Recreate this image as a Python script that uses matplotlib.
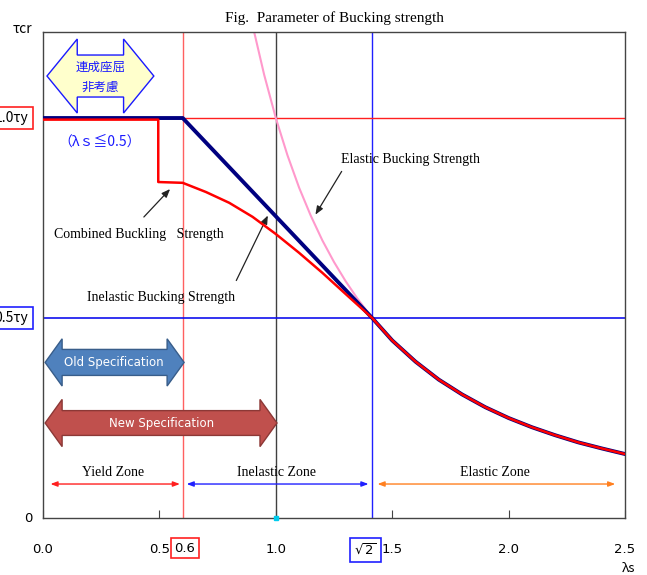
import matplotlib
matplotlib.use('Agg')
import matplotlib.pyplot as plt
from matplotlib.patches import Polygon

plt.rcParams['font.family'] = ['DejaVu Sans', 'Noto Sans CJK JP']

# elastic buckling strength (pink)
lam_el = [0.907, 0.95, 1.0, 1.05, 1.1, 1.15, 1.2, 1.25, 1.3, 1.35, 1.414]
tau_el = [1.215, 1.108, 1.0, 0.907, 0.826, 0.756, 0.694, 0.640, 0.592, 0.549, 0.5]

# inelastic buckling strength (navy)
lam_in = [0.0, 0.6, 1.414, 1.5, 1.6, 1.7, 1.8, 1.9, 2.0, 2.1, 2.2, 2.3, 2.4, 2.5]
tau_in = [1.0, 1.0, 0.5, 0.444, 0.391, 0.346, 0.309, 0.277, 0.25, 0.227, 0.207, 0.189, 0.174, 0.16]

# combined buckling strength (red)
lam_cb = [0.0, 0.495, 0.495, 0.6, 0.7, 0.8, 0.9, 1.0, 1.1, 1.2, 1.3, 1.414,
          1.5, 1.6, 1.7, 1.8, 1.9, 2.0, 2.1, 2.2, 2.3, 2.4, 2.5]
tau_cb = [0.996, 0.996, 0.84, 0.838, 0.815, 0.788, 0.753, 0.71, 0.663, 0.613, 0.56, 0.5,
          0.444, 0.391, 0.346, 0.309, 0.277, 0.25, 0.227, 0.207, 0.189, 0.174, 0.16]

xticks = [0.0, 0.5, 1.0, 1.5, 2.0, 2.5]
xticklabels = ['0.0', '0.5', '1.0', '1.5', '2.0', '2.5']

serif = 'Liberation Serif'
cjk = ['Noto Sans CJK JP', 'DejaVu Sans']

fig = plt.figure(figsize=(6.47, 5.75), dpi=100)
ax = fig.add_axes([0.0665, 0.0991, 0.8995, 0.8452])
ax.set_xlim(0, 2.5)
ax.set_ylim(0, 1.215)

# reference lines
ax.axvline(0.6, color='#ff6060', lw=1, zorder=1)
ax.axvline(1.0, color='#404040', lw=1, zorder=1)
ax.axvline(2 ** 0.5, color='#2020ff', lw=1, zorder=1)
ax.axhline(1.0, color='#ff2020', lw=1, zorder=1)
ax.axhline(0.5, color='#1010ee', lw=1.2, zorder=1)

ax.plot(lam_el, tau_el, color='#ff99cc', lw=1.5, zorder=2)
ax.plot(lam_in, tau_in, color='#000080', lw=2.8, zorder=3)
ax.plot(lam_cb, tau_cb, color='#ff0000', lw=1.8, zorder=4)

for s in ax.spines.values():
    s.set_color('#444444')
    s.set_linewidth(1)

ax.set_xticks(xticks)
ax.set_xticklabels(xticklabels, fontsize=9.5)
ax.tick_params(axis='x', direction='in', length=6, pad=18, color='#444444')
ax.set_yticks([])
ax.plot([1.0], [0.0], marker='s', ms=3, color='#00ccee', clip_on=False, zorder=5)

# y labels
ax.text(-0.025, 1.0, '1.0\u03c4y', transform=ax.get_yaxis_transform(), ha='right', va='center',
        fontsize=10, family=cjk,
        bbox=dict(boxstyle='square,pad=0.3', fc='white', ec='#ff2020', lw=1.2))
ax.text(-0.025, 0.5, '0.5\u03c4y', transform=ax.get_yaxis_transform(), ha='right', va='center',
        fontsize=10, family=cjk,
        bbox=dict(boxstyle='square,pad=0.3', fc='white', ec='#2020ff', lw=1.2))
ax.text(-0.018, 0.0, '0', transform=ax.get_yaxis_transform(), ha='right', va='center', fontsize=9.5)
fig.text(0.034, 0.95, '\u03c4cr', ha='center', va='center', fontsize=10, family=cjk)
fig.text(0.972, 0.012, '\u03bbs', ha='center', va='center', fontsize=9.5, family=cjk)

ax.text(0.61, -0.075, '0.6', ha='center', va='center', fontsize=9.5,
        bbox=dict(boxstyle='square,pad=0.3', fc='white', ec='#ff2020', lw=1.2), clip_on=False)
ax.text(1.385, -0.08, r'$\sqrt{2}$', ha='center', va='center', fontsize=9.5,
        bbox=dict(boxstyle='square,pad=0.35', fc='white', ec='#2020ff', lw=1.2), clip_on=False)

ax.set_title('Fig.  Parameter of Bucking strength', family=serif, fontsize=11, pad=7)


def double_arrow(x0, x1, yc, shaft, head, hl, fc, ec):
    pts = [(x0, yc), (x0 + hl, yc + head), (x0 + hl, yc + shaft), (x1 - hl, yc + shaft),
           (x1 - hl, yc + head), (x1, yc), (x1 - hl, yc - head), (x1 - hl, yc - shaft),
           (x0 + hl, yc - shaft), (x0 + hl, yc - head)]
    ax.add_patch(Polygon(pts, closed=True, fc=fc, ec=ec, lw=1, zorder=6))


double_arrow(0.017, 0.476, 1.105, 0.0525, 0.0925, 0.13, '#ffffcc', '#1a1aff')
ax.text(0.246, 1.127, '連成座屈', ha='center', va='center', color='#1a1aff', fontsize=9, family=cjk, zorder=7)
ax.text(0.246, 1.077, '非考慮', ha='center', va='center', color='#1a1aff', fontsize=9, family=cjk, zorder=7)

double_arrow(0.009, 0.606, 0.389, 0.0325, 0.059, 0.073, '#4f81bd', '#385d8a')
ax.text(0.305, 0.389, 'Old Specification', ha='center', va='center', color='white', fontsize=8.5, zorder=7)
double_arrow(0.009, 1.005, 0.2375, 0.031, 0.059, 0.073, '#c0504d', '#8c3836')
ax.text(0.51, 0.2375, 'New Specification', ha='center', va='center', color='white', fontsize=8.5, zorder=7)

ax.text(0.245, 0.94, '（λｓ≦0.5）', ha='center', va='center', color='#1a1aff', fontsize=10, family=cjk)

# zone arrows
ax.annotate('', xy=(0.6, 0.085), xytext=(0.02, 0.085),
            arrowprops=dict(arrowstyle='<|-|>,head_length=0.4,head_width=0.15', color='#ff2020', lw=1))
ax.annotate('', xy=(1.41, 0.085), xytext=(0.605, 0.085),
            arrowprops=dict(arrowstyle='<|-|>,head_length=0.4,head_width=0.15', color='#2020ff', lw=1))
ax.annotate('', xy=(2.47, 0.085), xytext=(1.425, 0.085),
            arrowprops=dict(arrowstyle='<|-|>,head_length=0.4,head_width=0.15', color='#ff8020', lw=1))
ax.text(0.3, 0.115, 'Yield Zone', ha='center', va='center', family=serif, fontsize=10)
ax.text(1.005, 0.115, 'Inelastic Zone', ha='center', va='center', family=serif, fontsize=10)
ax.text(1.94, 0.115, 'Elastic Zone', ha='center', va='center', family=serif, fontsize=10)

# curve annotations
arr = dict(arrowstyle='-|>,head_length=0.5,head_width=0.2', color='#222222', lw=0.9)
ax.annotate('', xy=(0.554, 0.8275), xytext=(0.425, 0.7475), arrowprops=arr)
ax.text(0.41, 0.71, 'Combined Buckling   Strength', ha='center', va='center', family=serif, fontsize=10)
ax.annotate('', xy=(1.164, 0.7525), xytext=(1.289, 0.8725), arrowprops=arr)
ax.text(1.577, 0.8975, 'Elastic Bucking Strength', ha='center', va='center', family=serif, fontsize=10)
ax.annotate('', xy=(0.971, 0.7625), xytext=(0.825, 0.5875), arrowprops=arr)
ax.text(0.507, 0.5525, 'Inelastic Bucking Strength', ha='center', va='center', family=serif, fontsize=10)

plt.savefig('out.png', dpi=100)
